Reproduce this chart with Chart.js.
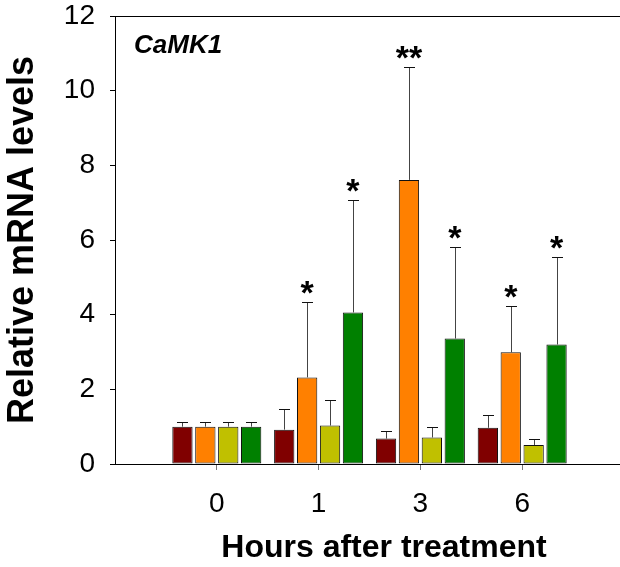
<!DOCTYPE html>
<html>
<head>
<meta charset="utf-8">
<script src="https://cdn.jsdelivr.net/npm/chart.js@4"></script>
<style>
  body { margin: 0; background: #fff; overflow: hidden; }
</style>
</head>
<body>
<canvas id="camkChart" width="624" height="567"></canvas>
<script>
// data
const hours = ['0', '1', '3', '6'];
const seriesNames = ['Series 1', 'Series 2', 'Series 3', 'Series 4'];
const darkRedVals = [1.0, 0.92, 0.68, 0.97];
const orangeVals  = [1.0, 2.32, 7.61, 2.99];
const yellowVals  = [1.0, 1.03, 0.71, 0.51];
const greenVals   = [1.0, 4.06, 3.36, 3.20];
const darkRedErr = [0.12, 0.55, 0.20, 0.35];
const orangeErr  = [0.12, 2.02, 3.03, 1.25];
const yellowErr  = [0.12, 0.69, 0.28, 0.15];
const greenErr   = [0.12, 3.00, 2.44, 2.34];
const orangeStars = ['', '*', '**', '*'];
const greenStars  = ['', '*', '*', '*'];
const noStars     = ['', '', '', ''];
const yTicks = [0, 2, 4, 6, 8, 10, 12];

const colorDarkRed = '#800000';
const colorOrange = '#FF8000';
const colorYellow = '#C0C000';
const colorGreen = '#008000';
const fontFam = '"Liberation Sans", Arial, sans-serif';

// empty slot on each side so the groups sit where the original has them
const pad = arr => [null].concat(arr, [null]);
const labels = [''].concat(hours, ['']);

function makeSet(name, vals, errs, stars, color) {
    return {
        label: name,
        data: pad(vals),
        errors: pad(errs),
        stars: pad(stars),
        backgroundColor: color,
        borderColor: '#111',
        borderWidth: 1,
        borderSkipped: false,
        categoryPercentage: 0.9,
        barPercentage: 0.886
    };
}

// error bars + asterisks + top frame line + gene name + x title
const extrasPlugin = {
    id: 'extras',
    afterDatasetsDraw(chart) {
        const ctx = chart.ctx;
        const yScale = chart.scales.y;
        const area = chart.chartArea;
        ctx.save();
        chart.data.datasets.forEach((ds, i) => {
            const meta = chart.getDatasetMeta(i);
            meta.data.forEach((bar, j) => {
                if (ds.data[j] == null) return;
                const top = yScale.getPixelForValue(ds.data[j] + ds.errors[j]);
                const x = Math.round(bar.x) + 0.5;
                ctx.strokeStyle = '#444';
                ctx.lineWidth = 1;
                ctx.beginPath();
                ctx.moveTo(x, bar.y);
                ctx.lineTo(x, Math.round(top) + 0.5);
                ctx.stroke();
                ctx.strokeStyle = '#111';
                ctx.beginPath();
                ctx.moveTo(x - 5.5, Math.round(top) + 0.5);
                ctx.lineTo(x + 5.5, Math.round(top) + 0.5);
                ctx.stroke();
                if (ds.stars[j]) {
                    ctx.fillStyle = '#000';
                    ctx.font = 'bold 34px ' + fontFam;
                    ctx.textAlign = 'center';
                    ctx.textBaseline = 'alphabetic';
                    ctx.fillText(ds.stars[j], bar.x, top + 2);
                }
            });
        });
        // top frame
        ctx.strokeStyle = '#000';
        ctx.beginPath();
        ctx.moveTo(area.left, Math.round(area.top) + 0.5);
        ctx.lineTo(chart.width, Math.round(area.top) + 0.5);
        ctx.stroke();
        // gene label
        ctx.fillStyle = '#000';
        ctx.font = 'italic bold 26px ' + fontFam;
        ctx.textAlign = 'left';
        ctx.textBaseline = 'alphabetic';
        ctx.fillText('CaMK1', area.left + 19, area.top + 37);
        // x axis title (sits right of the scale centre in the original)
        ctx.font = 'bold 32px ' + fontFam;
        ctx.textAlign = 'center';
        ctx.fillText('Hours after treatment', area.left + 269, chart.height - 10);
        ctx.restore();
    }
};

const ctxBar = document.getElementById('camkChart').getContext('2d');
new Chart(ctxBar, {
    type: 'bar',
    data: {
        labels: labels,
        datasets: [
            makeSet(seriesNames[0], darkRedVals, darkRedErr, noStars, colorDarkRed),
            makeSet(seriesNames[1], orangeVals, orangeErr, orangeStars, colorOrange),
            makeSet(seriesNames[2], yellowVals, yellowErr, noStars, colorYellow),
            makeSet(seriesNames[3], greenVals, greenErr, greenStars, colorGreen)
        ]
    },
    options: {
        responsive: false,
        animation: false,
        layout: { padding: { top: 16, right: 0, left: 0, bottom: 0 } },
        scales: {
            x: {
                offset: false,
                grid: {
                    offset: false,
                    drawOnChartArea: false,
                    tickLength: 6,
                    tickColor: c => (c.index === 0 || c.index === labels.length - 1) ? 'rgba(0,0,0,0)' : '#777'
                },
                border: { color: '#000', width: 1 },
                ticks: {
                    color: '#000',
                    padding: 17,
                    maxRotation: 0,
                    autoSkip: false,
                    font: { family: fontFam, size: 28 }
                },
                afterFit: s => {
                    s.height = 103;
                    s.paddingLeft = 0;
                    s.paddingRight = 0;
                }
            },
            y: {
                min: 0,
                max: 12,
                afterBuildTicks: s => { s.ticks = yTicks.map(v => ({ value: v })); },
                grid: {
                    drawOnChartArea: false,
                    tickLength: 5,
                    tickColor: '#000'
                },
                border: { color: '#000', width: 1 },
                ticks: {
                    color: '#000',
                    padding: 15,
                    font: { family: fontFam, size: 28 }
                },
                title: {
                    display: true,
                    text: 'Relative mRNA levels',
                    color: '#000',
                    padding: { top: 1, bottom: 0 },
                    font: { family: fontFam, size: 36, weight: 'bold' }
                },
                afterFit: s => {
                    s.width = 115;
                    s.paddingTop = 0;
                    s.paddingBottom = 0;
                }
            }
        },
        plugins: {
            legend: { display: false },
            tooltip: { enabled: false }
        }
    },
    plugins: [extrasPlugin]
});
</script>
</body>
</html>
